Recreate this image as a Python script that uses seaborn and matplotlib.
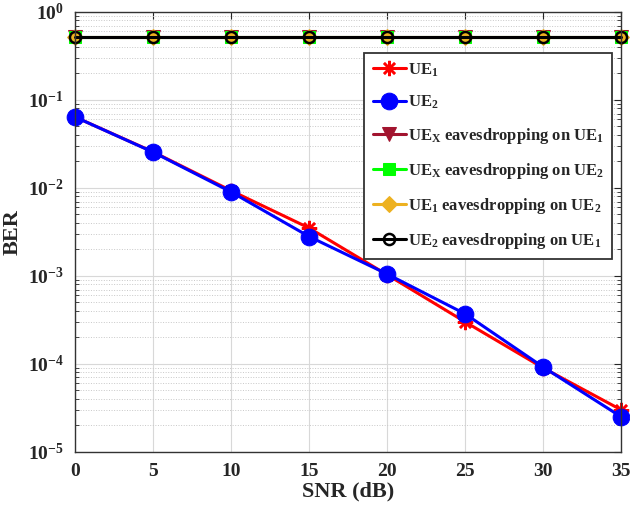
import numpy as np
import pandas as pd
import matplotlib
matplotlib.use("Agg")
import matplotlib.pyplot as plt
import seaborn as sns
from matplotlib.ticker import LogLocator, NullFormatter

snr = [0, 5, 10, 15, 20, 25, 30, 35]
ue1 = [0.064, 0.0257, 0.0093, 0.0035, 0.00103, 0.00030, 9.0e-5, 3.0e-5]
ue2 = [0.064, 0.0255, 0.0090, 0.0028, 0.00105, 0.00037, 9.2e-5, 2.5e-5]
uex_on_ue1 = [0.52, 0.52, 0.52, 0.52, 0.52, 0.52, 0.52, 0.52]
uex_on_ue2 = [0.52, 0.52, 0.52, 0.52, 0.52, 0.52, 0.52, 0.52]
ue1_on_ue2 = [0.52, 0.52, 0.52, 0.52, 0.52, 0.52, 0.52, 0.52]
ue2_on_ue1 = [0.52, 0.52, 0.52, 0.52, 0.52, 0.52, 0.52, 0.52]

labels = [r"UE$_1$", r"UE$_2$",
          r"UE$_X$ eavesdropping on UE$_1$",
          r"UE$_X$ eavesdropping on UE$_2$",
          r"UE$_1$ eavesdropping on UE$_2$",
          r"UE$_2$ eavesdropping on UE$_1$"]

sns.set_style("white")
plt.rcParams["font.family"] = ["Liberation Serif", "DejaVu Serif"]
plt.rcParams["font.weight"] = "bold"
plt.rcParams["mathtext.fontset"] = "custom"
plt.rcParams["mathtext.rm"] = "Liberation Serif:bold"
plt.rcParams["mathtext.it"] = "Liberation Serif:bold"
plt.rcParams["mathtext.bf"] = "Liberation Serif:bold"

fig = plt.figure(figsize=(6.3, 5.17), dpi=100)
ax = fig.add_axes([0.119, 0.126, 0.867, 0.851])

styles = [
    dict(color="#ff0000", marker=(8, 2, 0), markersize=11, markerfacecolor="#ff0000", markeredgecolor="#ff0000", markeredgewidth=1.8, lw=2.2),
    dict(color="#0000ff", marker="o", markersize=12, markerfacecolor="#0000ff", markeredgecolor="#0000ff", lw=2.2),
    dict(color="#a2142f", marker="v", markersize=10, markerfacecolor="#a2142f", markeredgecolor="#a2142f", lw=2.2),
    dict(color="#00ff00", marker="s", markersize=9, markerfacecolor="#00ff00", markeredgecolor="#00ff00", lw=2.2),
    dict(color="#edb120", marker="D", markersize=8, markerfacecolor="#edb120", markeredgecolor="#edb120", lw=2.2),
    dict(color="#000000", marker="o", markersize=8, markerfacecolor="none", markeredgecolor="#000000", markeredgewidth=1.8, lw=2.2),
]
series = [ue1, ue2, uex_on_ue1, uex_on_ue2, ue1_on_ue2, ue2_on_ue1]
for vals, lab, st in zip(series, labels, styles):
    df = pd.DataFrame({"SNR": snr, "BER": vals})
    st = dict(st)
    c = st.pop("color")
    lw = st.pop("lw")
    sns.lineplot(data=df, x="SNR", y="BER", ax=ax, color=c, linewidth=lw,
                 label=lab, clip_on=False, **st)

ax.set_yscale("log")
ax.set_xlim(0, 35)
ax.set_ylim(1e-5, 1)
ax.set_xticks(snr)
ax.yaxis.set_major_locator(LogLocator(base=10, numticks=10))
ax.yaxis.set_minor_locator(LogLocator(base=10, subs=np.arange(2, 10), numticks=10))
ax.yaxis.set_minor_formatter(NullFormatter())
ax.grid(True, which="major", color="#d8d8d8", linewidth=0.8, linestyle="-")
ax.grid(True, which="minor", color="#c8c8c8", linewidth=0.7, linestyle=":")
ax.xaxis.grid(True, which="major", color="#d8d8d8", linewidth=0.8)
for s in ax.spines.values():
    s.set_color("#333333")
    s.set_linewidth(1.0)
ax.tick_params(axis="both", which="major", direction="in", length=5, labelsize=14,
               top=True, right=True, pad=8)
ax.tick_params(axis="y", which="minor", direction="in", length=3, right=True, left=True)
for t in ax.get_xticklabels() + ax.get_yticklabels():
    t.set_fontweight("bold")
ax.set_xlabel("SNR (dB)", fontsize=16, fontweight="bold", labelpad=1)
ax.set_ylabel("BER", fontsize=16, fontweight="bold", labelpad=4)

leg = ax.legend(loc="upper right", bbox_to_anchor=(0.999, 0.926), fontsize=12,
                frameon=True, fancybox=False, edgecolor="#333333",
                handlelength=2.0, handletextpad=0.1, labelspacing=0.9,
                borderpad=0.5)
leg.get_frame().set_linewidth(1.3)
leg.get_frame().set_alpha(1)

fig.savefig("out.png", dpi=100)
